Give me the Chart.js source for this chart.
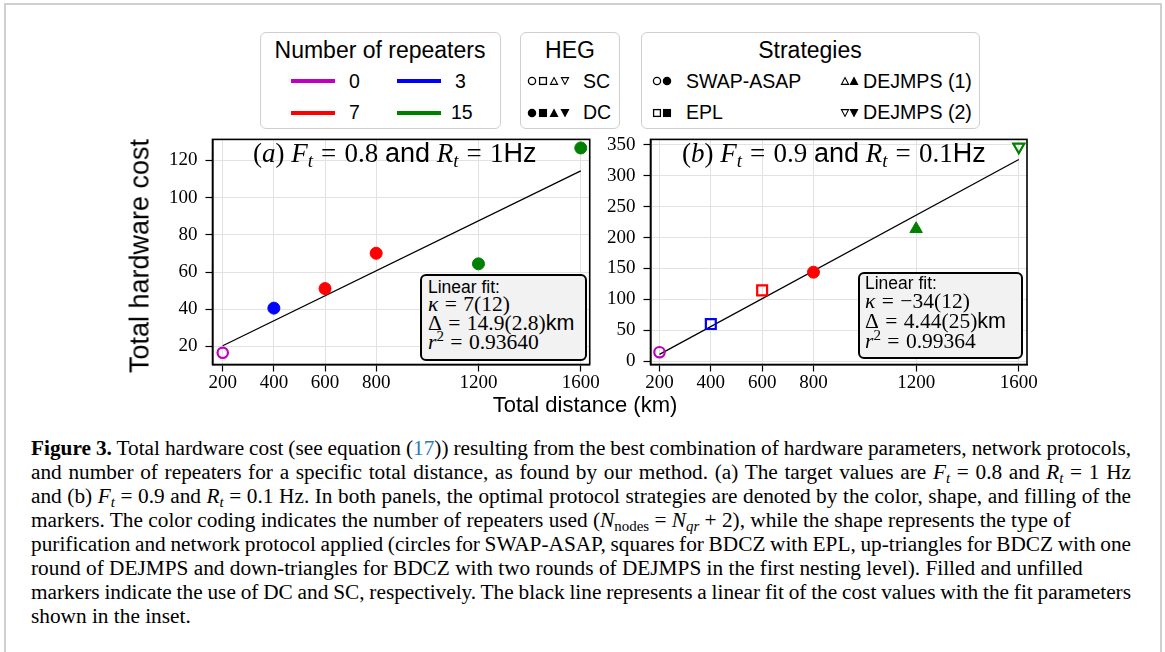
<!DOCTYPE html>
<html>
<head>
<meta charset="utf-8">
<script src="https://cdn.jsdelivr.net/npm/chart.js@4.4.0/dist/chart.umd.min.js"></script>
<style>
  body { margin: 0; width: 1165px; height: 652px; overflow: hidden; background: #fff; position: relative; }
  .t { position: absolute; white-space: nowrap; line-height: 1; color: #000; }
  .sans { font-family: "Liberation Sans", Arial, sans-serif; }
  .serif { font-family: "Liberation Serif", "Times New Roman", serif; }
  .box { position: absolute; box-sizing: border-box; border: 1.5px solid #cfcfcf; border-radius: 6px; background: #fff; }
  .swatch { position: absolute; height: 4px; width: 44px; }
  .mk { position: absolute; }
  .inset { position: absolute; box-sizing: border-box; border: 2.5px solid #000; border-radius: 6px; background: #f2f2f2; z-index: 2; }
  .ann { z-index: 3; }
  sub { font-size: 0.7em; vertical-align: -0.28em; line-height: 0; }
  sup { font-size: 0.7em; vertical-align: 0.5em; line-height: 0; }
  .eq { margin: 0 0.3em; font-style: normal; }
  #frame { position: absolute; left: 4px; top: 3px; width: 1158px; height: 720px; box-sizing: border-box; border: 2px solid #cfcfcf; border-bottom: none; }
  #caption { position: absolute; left: 31px; top: 436px; font-family: "Liberation Serif", "Times New Roman", serif; font-size: 21.3px; line-height: 24px; color: #000; }
  #caption div { white-space: nowrap; }
  #caption .j { width: 1100px; text-align: justify; text-align-last: justify; }
  .lnk { color: #2b7bb5; }
</style>
</head>
<body>
<div id="frame"></div>

<!-- legends -->
<div class="box" style="left:260px; top:32px; width:241px; height:97px;"></div>
<div class="box" style="left:520px; top:32px; width:100px; height:97px;"></div>
<div class="box" style="left:641px; top:32px; width:339px; height:97px;"></div>

<div class="t sans ann" style="left:380px; top:39px; font-size:23px; transform:translateX(-50%);">Number of repeaters</div>
<div class="t sans ann" style="left:570px; top:39px; font-size:23px; transform:translateX(-50%);">HEG</div>
<div class="t sans ann" style="left:810px; top:39px; font-size:23px; transform:translateX(-50%);">Strategies</div>

<div class="swatch" style="left:291px; top:79px; background:#bf00bf;"></div>
<div class="swatch" style="left:397px; top:79px; background:#0000ff;"></div>
<div class="swatch" style="left:291px; top:111px; background:#ff0000;"></div>
<div class="swatch" style="left:397px; top:111px; background:#008000;"></div>
<div class="t sans" style="left:349px; top:71.5px; font-size:19.5px;">0</div>
<div class="t sans" style="left:455px; top:71.5px; font-size:19.5px;">3</div>
<div class="t sans" style="left:349px; top:103px; font-size:19.5px;">7</div>
<div class="t sans" style="left:451px; top:103px; font-size:19.5px;">15</div>

<div id="hegMarks"></div>
<div class="t sans" style="left:583px; top:71.5px; font-size:19.5px;">SC</div>
<div class="t sans" style="left:583px; top:103px; font-size:19.5px;">DC</div>

<div class="t sans" style="left:686px; top:71.5px; font-size:19.5px;">SWAP-ASAP</div>
<div class="t sans" style="left:686px; top:103px; font-size:19.5px;">EPL</div>
<div class="t sans" style="left:863px; top:71.5px; font-size:19.6px;">DEJMPS (1)</div>
<div class="t sans" style="left:863px; top:103px; font-size:19.6px;">DEJMPS (2)</div>

<!-- panels -->
<div style="position:absolute; left:100px; top:120px; width:500px; height:290px;"><canvas id="chartA" width="500" height="290"></canvas></div>
<div style="position:absolute; left:600px; top:120px; width:440px; height:290px;"><canvas id="chartB" width="440" height="290"></canvas></div>

<div class="t serif ann" style="left:253px; top:140px; font-size:27px;">(<i>a</i>)&nbsp;<i>F</i><sub><i>t</i></sub><span class="eq">=</span>0.8 <span class="sans">and</span> <i>R</i><sub><i>t</i></sub><span class="eq">=</span>1<span class="sans">Hz</span></div>
<div class="t serif ann" style="left:682px; top:140px; font-size:27px;">(<i>b</i>)&nbsp;<i>F</i><sub><i>t</i></sub><span class="eq">=</span>0.9 <span class="sans">and</span> <i>R</i><sub><i>t</i></sub><span class="eq">=</span>0.1<span class="sans">Hz</span></div>

<div class="inset" style="left:420px; top:274px; width:167px; height:87px;"></div>
<div class="t sans ann" style="left:428px; top:279px; font-size:17.5px;">Linear fit:</div>
<div class="t serif ann" style="left:428px; top:294px; font-size:21.5px;"><i>κ</i><span class="eq">=</span>7(12)</div>
<div class="t serif ann" style="left:428px; top:313px; font-size:21.5px;">Δ<span class="eq">=</span>14.9(2.8)<span class="sans">km</span></div>
<div class="t serif ann" style="left:428px; top:332px; font-size:21.5px;"><i>r</i><sup>2</sup><span class="eq">=</span>0.93640</div>

<div class="inset" style="left:858px; top:272px; width:165px; height:87px;"></div>
<div class="t sans ann" style="left:865px; top:275px; font-size:17.5px;">Linear fit:</div>
<div class="t serif ann" style="left:865px; top:291px; font-size:21.5px;"><i>κ</i><span class="eq">=</span>−34(12)</div>
<div class="t serif ann" style="left:865px; top:311px; font-size:21.5px;">Δ<span class="eq">=</span>4.44(25)<span class="sans">km</span></div>
<div class="t serif ann" style="left:865px; top:331px; font-size:21.5px;"><i>r</i><sup>2</sup><span class="eq">=</span>0.99364</div>

<div class="t sans" style="left:140px; top:256px; font-size:27px; transform:translate(-50%,-50%) rotate(-90deg);">Total hardware cost</div>
<div class="t sans" style="left:585px; top:394px; font-size:22px; transform:translateX(-50%);">Total distance (km)</div>

<div id="caption">
  <div data-j="1"><span><b>Figure 3.</b> Total hardware cost (see equation (<span class="lnk">17</span>)) resulting from the best combination of hardware parameters, network protocols,</span></div>
  <div data-j="1"><span>and number of repeaters for a specific total distance, as found by our method. (a) The target values are <i>F<sub>t</sub></i> = 0.8 and <i>R<sub>t</sub></i> = 1 Hz</span></div>
  <div data-j="1"><span>and (b) <i>F<sub>t</sub></i> = 0.9 and <i>R<sub>t</sub></i> = 0.1 Hz. In both panels, the optimal protocol strategies are denoted by the color, shape, and filling of the</span></div>
  <div><span>markers. The color coding indicates the number of repeaters used (<i>N</i><sub>nodes</sub> = <i>N<sub>qr</sub></i> + 2), while the shape represents the type of</span></div>
  <div data-j="1"><span>purification and network protocol applied (circles for SWAP-ASAP, squares for BDCZ with EPL, up-triangles for BDCZ with one</span></div>
  <div><span>round of DEJMPS and down-triangles for BDCZ with two rounds of DEJMPS in the first nesting level). Filled and unfilled</span></div>
  <div data-j="1"><span>markers indicate the use of DC and SC, respectively. The black line represents a linear fit of the cost values with the fit parameters</span></div>
  <div><span>shown in the inset.</span></div>
</div>

<script>
// data
const distances = [200, 400, 600, 800, 1200, 1600];
const repeaters = [0, 3, 7, 7, 15, 15];
const costA = [16.6, 40.6, 51.1, 70.1, 64.4, 126.7];
const costB = [14.4, 60, 114.6, 144, 214, 347];
const strategyA = ["SWAP-ASAP", "SWAP-ASAP", "SWAP-ASAP", "SWAP-ASAP", "SWAP-ASAP", "SWAP-ASAP"];
const strategyB = ["SWAP-ASAP", "EPL", "EPL", "SWAP-ASAP", "DEJMPS (1)", "DEJMPS (2)"];
const hegA = ["SC", "DC", "DC", "DC", "DC", "DC"];
const hegB = ["SC", "SC", "SC", "DC", "DC", "SC"];
const fitX = [200, 1600];
const fitA = [20.4, 114.4];
const fitB = [11.0, 326.4];
const xTicks = [200, 400, 600, 800, 1200, 1600];
const yTicksA = [20, 40, 60, 80, 100, 120];
const yTicksB = [0, 50, 100, 150, 200, 250, 300, 350];

const repColor = { 0: "#bf00bf", 3: "#0000ff", 7: "#ff0000", 15: "#008000" };
const shapeOf = { "SWAP-ASAP": "circle", "EPL": "rect", "DEJMPS (1)": "triangle", "DEJMPS (2)": "triangle" };
const rotOf = { "SWAP-ASAP": 0, "EPL": 0, "DEJMPS (1)": 0, "DEJMPS (2)": 180 };

function markerRadius(strategy, heg) {
  const shape = shapeOf[strategy];
  if (shape === "circle") return heg === "DC" ? 6 : 5.2;
  if (shape === "rect") return 7;
  return heg === "DC" ? 7.2 : 6.4;
}

function pointsDataset(cost, strategy, heg) {
  return {
    data: distances.map((d, i) => ({ x: d, y: cost[i] })),
    pointStyle: strategy.map(s => shapeOf[s]),
    pointRotation: strategy.map(s => rotOf[s]),
    pointRadius: strategy.map((s, i) => markerRadius(s, heg[i])),
    pointBackgroundColor: heg.map((h, i) => h === "DC" ? repColor[repeaters[i]] : "rgba(0,0,0,0)"),
    pointBorderColor: repeaters.map(r => repColor[r]),
    pointBorderWidth: heg.map(h => h === "DC" ? 1 : 2.2),
    showLine: false,
    clip: false
  };
}

function fitDataset(fit) {
  return {
    data: fitX.map((x, i) => ({ x: x, y: fit[i] })),
    showLine: true,
    borderColor: "#000",
    borderWidth: 1.3,
    pointRadius: 0,
    clip: false
  };
}

const frameBox = {
  id: "frameBox",
  afterDraw(chart) {
    const { ctx, chartArea: a } = chart;
    ctx.save();
    ctx.strokeStyle = "#000";
    ctx.lineWidth = 1.6;
    ctx.strokeRect(a.left, a.top, a.right - a.left, a.bottom - a.top);
    ctx.restore();
  }
};

const tickFont = { family: "Liberation Serif", size: 19 };

function makeChart(id, points, fit, xr, yr, yTicks, yWidth, padRight) {
  new Chart(document.getElementById(id), {
    type: "scatter",
    data: { datasets: [points, fit] },
    options: {
      responsive: false,
      devicePixelRatio: 1,
      animation: false,
      events: [],
      layout: { padding: { left: 0, top: 17.5, right: padRight, bottom: 0 } },
      plugins: { legend: { display: false }, tooltip: { enabled: false } },
      scales: {
        x: {
          type: "linear",
          min: xr[0],
          max: xr[1],
          afterBuildTicks: s => { s.ticks = xTicks.map(v => ({ value: v })); },
          afterFit: s => { s.height = 45.5; },
          grid: { color: "#e2e2e2", lineWidth: 1, tickColor: "#000", tickLength: 7, tickWidth: 1.2 },
          border: { color: "#000", width: 1.6 },
          ticks: { font: tickFont, color: "#000", padding: 0, maxRotation: 0, autoSkip: false, callback: v => String(v) }
        },
        y: {
          type: "linear",
          min: yr[0],
          max: yr[1],
          afterBuildTicks: s => { s.ticks = yTicks.map(v => ({ value: v })); },
          afterFit: s => { s.width = yWidth; },
          grid: { color: "#e2e2e2", lineWidth: 1, tickColor: "#000", tickLength: 7, tickWidth: 1.2 },
          border: { color: "#000", width: 1.6 },
          ticks: { font: tickFont, color: "#000", padding: 8, autoSkip: false, callback: v => String(v) }
        }
      }
    },
    plugins: [frameBox]
  });
}

makeChart("chartA", pointsDataset(costA, strategyA, hegA), fitDataset(fitA),
  [160, 1635], [10.3, 131.3], yTicksA, 112.5, 9.5);
makeChart("chartB", pointsDataset(costB, strategyB, hegB), fitDataset(fitB),
  [165, 1632], [-5.5, 359], yTicksB, 50.5, 13);

// small black legend markers (HEG and strategy boxes)
function markerSvg(shape, filled, x, cy) {
  const fill = filled ? "#000" : "#fff";
  let body = "";
  if (shape === "circle") body = `<circle cx="5" cy="5" r="3.6" fill="${fill}" stroke="#000" stroke-width="1.3"/>`;
  else if (shape === "rect") body = `<rect x="1.6" y="1.6" width="6.8" height="6.8" fill="${fill}" stroke="#000" stroke-width="1.3"/>`;
  else if (shape === "up") body = `<polygon points="5,1.6 8.6,8.4 1.4,8.4" fill="${fill}" stroke="#000" stroke-width="1.1"/>`;
  else body = `<polygon points="1.4,1.6 8.6,1.6 5,8.4" fill="${fill}" stroke="#000" stroke-width="1.1"/>`;
  return `<svg class="mk" style="left:${x}px; top:${cy - 5}px;" width="10" height="10" viewBox="0 0 10 10">${body}</svg>`;
}
let mk = "";
["circle", "rect", "up", "down"].forEach((s, i) => {
  mk += markerSvg(s, false, 527 + i * 11, 81);
  mk += markerSvg(s, true, 527 + i * 11, 112.5);
});
mk += markerSvg("circle", false, 652, 81) + markerSvg("circle", true, 662, 81);
mk += markerSvg("rect", false, 652, 112.5) + markerSvg("rect", true, 662, 112.5);
mk += markerSvg("up", false, 840, 81) + markerSvg("up", true, 849, 81);
mk += markerSvg("down", false, 840, 112.5) + markerSvg("down", true, 849, 112.5);
document.getElementById("hegMarks").innerHTML = mk;

// caption: full-width lines are justified, squeezed slightly if too long
document.querySelectorAll("#caption div[data-j]").forEach(div => {
  const span = div.firstElementChild;
  const w = span.getBoundingClientRect().width;
  if (w > 1100) {
    const spaces = (span.textContent.match(/ /g) || []).length;
    div.style.wordSpacing = ((1100 - w) / spaces) + "px";
  }
  div.classList.add("j");
});
</script>
</body>
</html>
